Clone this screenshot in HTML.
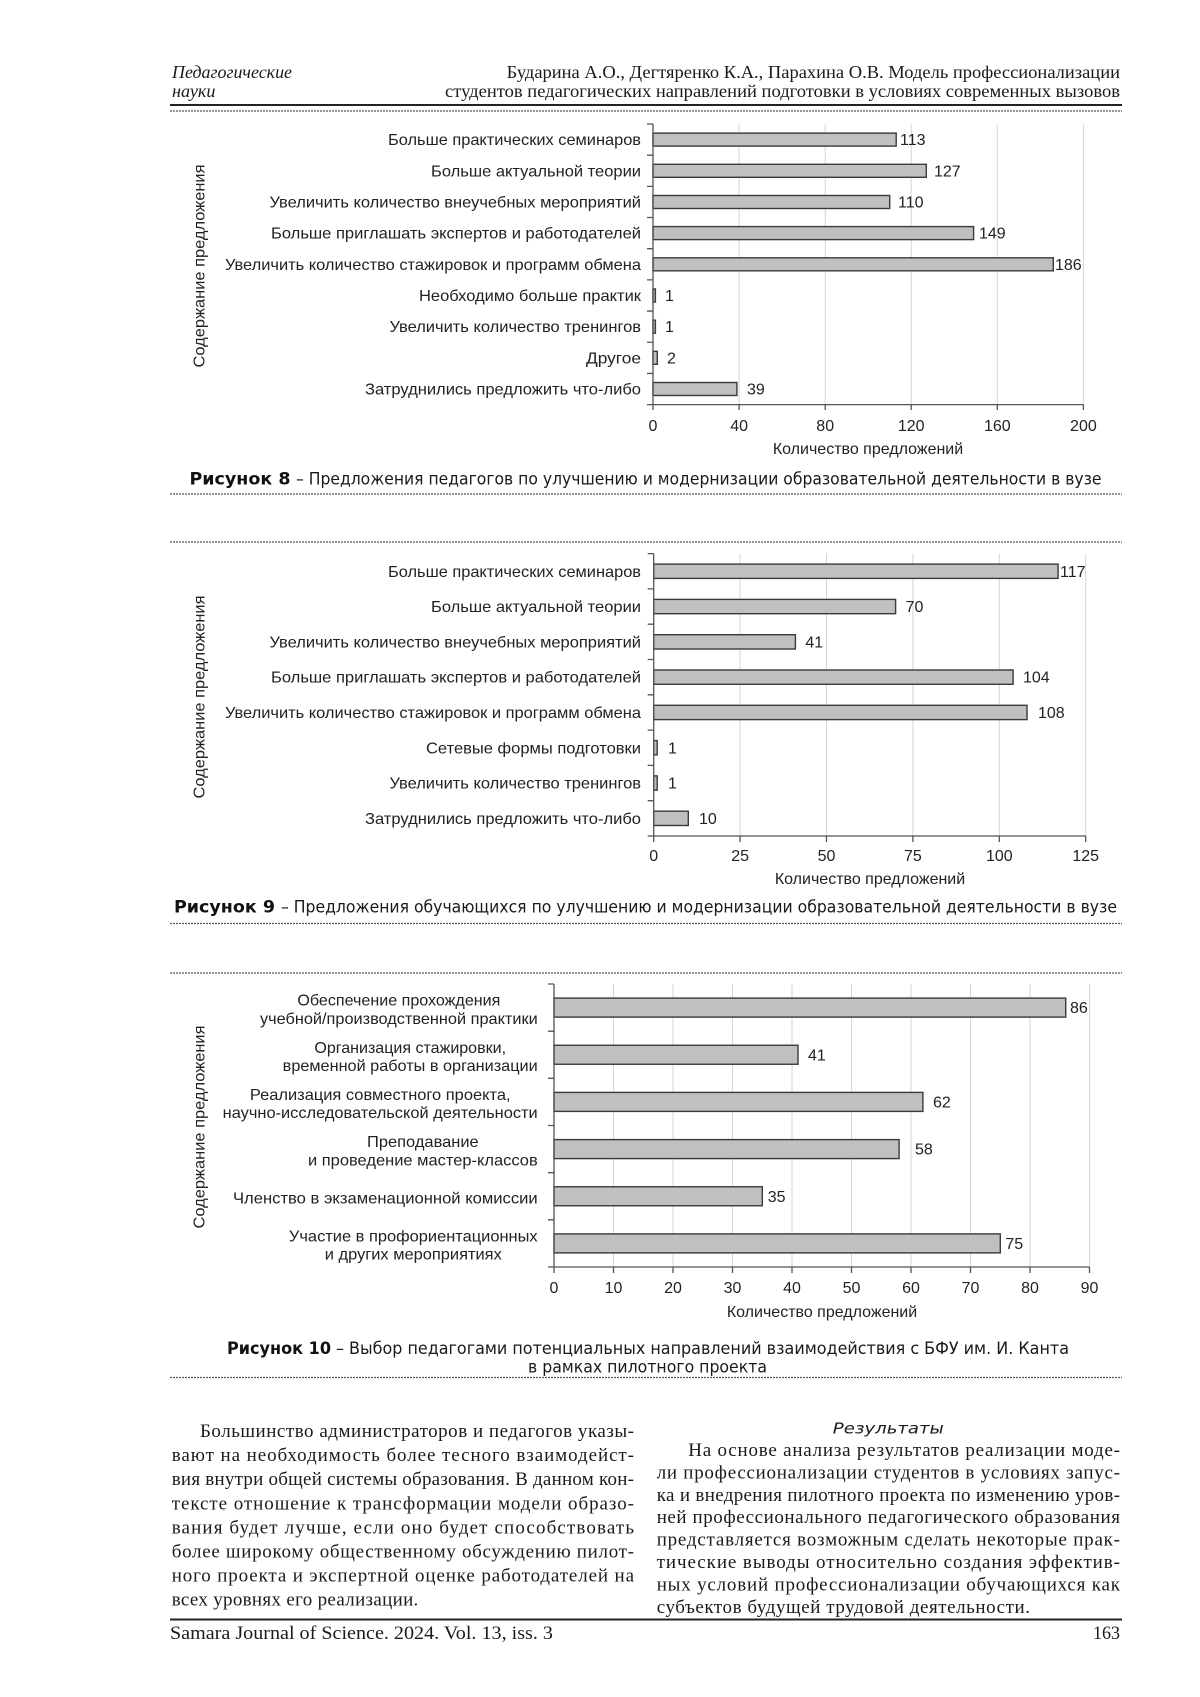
<!DOCTYPE html>
<html><head><meta charset="utf-8"><style>
html,body{margin:0;padding:0;background:#fff;}
svg{display:block;}
.s{font-family:"Liberation Sans",Arial,sans-serif;font-size:16px;fill:#222;}
.t{font-family:"Liberation Serif","Times New Roman",serif;font-size:19px;fill:#1a1a1a;}
.h{font-family:"Liberation Serif","Times New Roman",serif;font-size:18px;fill:#1a1a1a;}
.c{font-family:"DejaVu Sans","Liberation Sans",sans-serif;font-size:16.5px;fill:#1a1a1a;}
.ci{font-family:"DejaVu Sans","Liberation Sans",sans-serif;font-size:15.5px;fill:#1a1a1a;}
.cb{font-family:"DejaVu Sans","Liberation Sans",sans-serif;font-size:16.5px;font-weight:bold;fill:#111;}
.g{stroke:#d6d6d6;stroke-width:1;}
.ax{stroke:#555;stroke-width:1.3;fill:none;}
.bar{fill:#c0c0c0;stroke:#3a3a3a;stroke-width:1.4;}
.dash{stroke:#555;stroke-width:1.2;stroke-dasharray:2 1;}
</style></head><body>
<svg width="1200" height="1697" viewBox="0 0 1200 1697" xmlns="http://www.w3.org/2000/svg">
<rect width="1200" height="1697" fill="#fff"/>

<!-- Header -->
<text class="h" x="172" y="78" font-style="italic" textLength="120" lengthAdjust="spacingAndGlyphs">Педагогические</text>
<text class="h" x="172" y="97" font-style="italic" textLength="43.5" lengthAdjust="spacingAndGlyphs">науки</text>
<text class="h" x="506.7" y="78" textLength="613.3" lengthAdjust="spacingAndGlyphs">Бударина А.О., Дегтяренко К.А., Парахина О.В. Модель профессионализации</text>
<text class="h" x="445" y="97" textLength="675" lengthAdjust="spacingAndGlyphs">студентов педагогических направлений подготовки в условиях современных вызовов</text>
<line x1="170" y1="105" x2="1122" y2="105" stroke="#222" stroke-width="2"/>
<line class="dash" x1="170" y1="111" x2="1122" y2="111"/>

<!-- ============ Chart 8 ============ -->
<g>
<line class="g" x1="739.1" y1="124" x2="739.1" y2="404.6"/>
<line class="g" x1="825.2" y1="124" x2="825.2" y2="404.6"/>
<line class="g" x1="911.2" y1="124" x2="911.2" y2="404.6"/>
<line class="g" x1="997.3" y1="124" x2="997.3" y2="404.6"/>
<line class="g" x1="1083.4" y1="124" x2="1083.4" y2="404.6"/>

<rect class="bar" x="653" y="133.1" width="243.2" height="13"/>
<rect class="bar" x="653" y="164.3" width="273.3" height="13"/>
<rect class="bar" x="653" y="195.5" width="236.7" height="13"/>
<rect class="bar" x="653" y="226.6" width="320.6" height="13"/>
<rect class="bar" x="653" y="257.8" width="400.3" height="13"/>
<rect class="bar" x="653" y="289.0" width="2.4" height="13"/>
<rect class="bar" x="653" y="320.2" width="2.4" height="13"/>
<rect class="bar" x="653" y="351.3" width="4.3" height="13"/>
<rect class="bar" x="653" y="382.5" width="83.9" height="13"/>

<path class="ax" d="M653 124 V404.6 H1083.4"/>
<path class="ax" d="M647 124H653M647 155.18H653M647 186.36H653M647 217.53H653M647 248.71H653M647 279.89H653M647 311.07H653M647 342.24H653M647 373.42H653M647 404.6H653"/>
<path class="ax" d="M653 404.6V410M739.1 404.6V410M825.2 404.6V410M911.2 404.6V410M997.3 404.6V410M1083.4 404.6V410"/>

<text class="s" x="388" y="145.1" textLength="253" lengthAdjust="spacingAndGlyphs">Больше практических семинаров</text>
<text class="s" x="431" y="176.3" textLength="210" lengthAdjust="spacingAndGlyphs">Больше актуальной теории</text>
<text class="s" x="269.5" y="207.5" textLength="371.5" lengthAdjust="spacingAndGlyphs">Увеличить количество внеучебных мероприятий</text>
<text class="s" x="271" y="238.6" textLength="370" lengthAdjust="spacingAndGlyphs">Больше приглашать экспертов и работодателей</text>
<text class="s" x="225" y="269.8" textLength="416" lengthAdjust="spacingAndGlyphs">Увеличить количество стажировок и программ обмена</text>
<text class="s" x="419" y="301.0" textLength="222" lengthAdjust="spacingAndGlyphs">Необходимо больше практик</text>
<text class="s" x="389.5" y="332.2" textLength="251.5" lengthAdjust="spacingAndGlyphs">Увеличить количество тренингов</text>
<text class="s" x="586" y="363.3" textLength="55" lengthAdjust="spacingAndGlyphs">Другое</text>
<text class="s" x="365" y="394.5" textLength="276" lengthAdjust="spacingAndGlyphs">Затруднились предложить что-либо</text>

<text class="s" x="900" y="145.1">113</text>
<text class="s" x="934" y="176.3">127</text>
<text class="s" x="898" y="207.5">110</text>
<text class="s" x="979" y="238.6">149</text>
<text class="s" x="1055" y="269.8">186</text>
<text class="s" x="665" y="301.0">1</text>
<text class="s" x="665" y="332.2">1</text>
<text class="s" x="667" y="363.3">2</text>
<text class="s" x="747" y="394.5">39</text>

<g text-anchor="middle">
<text class="s" x="653" y="431">0</text>
<text class="s" x="739.1" y="431">40</text>
<text class="s" x="825.2" y="431">80</text>
<text class="s" x="911.2" y="431">120</text>
<text class="s" x="997.3" y="431">160</text>
<text class="s" x="1083.4" y="431">200</text>
<text class="s" x="868" y="454">Количество предложений</text>
</g>
<text class="s" transform="translate(204.5 266) rotate(-90)" x="-101.5" y="0" textLength="203" lengthAdjust="spacingAndGlyphs">Содержание предложения</text>
</g>

<text class="cb" x="189.5" y="484.5" textLength="101" lengthAdjust="spacingAndGlyphs">Рисунок 8</text>
<text class="c" x="296" y="484.5" textLength="805.5" lengthAdjust="spacingAndGlyphs">– Предложения педагогов по улучшению и модернизации образовательной деятельности в вузе</text>
<line class="dash" x1="170" y1="494" x2="1122" y2="494"/>
<line class="dash" x1="170" y1="542" x2="1122" y2="542"/>

<!-- ============ Chart 9 ============ -->
<g>
<line class="g" x1="740.1" y1="553.6" x2="740.1" y2="836"/>
<line class="g" x1="826.5" y1="553.6" x2="826.5" y2="836"/>
<line class="g" x1="912.9" y1="553.6" x2="912.9" y2="836"/>
<line class="g" x1="999.3" y1="553.6" x2="999.3" y2="836"/>
<line class="g" x1="1085.7" y1="553.6" x2="1085.7" y2="836"/>

<rect class="bar" x="653.7" y="564.1" width="404.4" height="14.3"/>
<rect class="bar" x="653.7" y="599.4" width="241.9" height="14.3"/>
<rect class="bar" x="653.7" y="634.7" width="141.7" height="14.3"/>
<rect class="bar" x="653.7" y="670.0" width="359.4" height="14.3"/>
<rect class="bar" x="653.7" y="705.3" width="373.3" height="14.3"/>
<rect class="bar" x="653.7" y="740.6" width="3.5" height="14.3"/>
<rect class="bar" x="653.7" y="775.9" width="3.5" height="14.3"/>
<rect class="bar" x="653.7" y="811.2" width="34.6" height="14.3"/>

<path class="ax" d="M653.7 553.6 V836 H1085.7"/>
<path class="ax" d="M647.7 553.6H653.7M647.7 588.9H653.7M647.7 624.2H653.7M647.7 659.5H653.7M647.7 694.8H653.7M647.7 730.1H653.7M647.7 765.4H653.7M647.7 800.7H653.7M647.7 836H653.7"/>
<path class="ax" d="M653.7 836V842M740.1 836V842M826.5 836V842M912.9 836V842M999.3 836V842M1085.7 836V842"/>

<text class="s" x="388" y="576.8" textLength="253" lengthAdjust="spacingAndGlyphs">Больше практических семинаров</text>
<text class="s" x="431" y="612.1" textLength="210" lengthAdjust="spacingAndGlyphs">Больше актуальной теории</text>
<text class="s" x="269.5" y="647.4" textLength="371.5" lengthAdjust="spacingAndGlyphs">Увеличить количество внеучебных мероприятий</text>
<text class="s" x="271" y="682.7" textLength="370" lengthAdjust="spacingAndGlyphs">Больше приглашать экспертов и работодателей</text>
<text class="s" x="225" y="718.0" textLength="416" lengthAdjust="spacingAndGlyphs">Увеличить количество стажировок и программ обмена</text>
<text class="s" x="426" y="753.3" textLength="215" lengthAdjust="spacingAndGlyphs">Сетевые формы подготовки</text>
<text class="s" x="389.5" y="788.6" textLength="251.5" lengthAdjust="spacingAndGlyphs">Увеличить количество тренингов</text>
<text class="s" x="365" y="823.9" textLength="276" lengthAdjust="spacingAndGlyphs">Затруднились предложить что-либо</text>

<text class="s" x="1060" y="576.8">117</text>
<text class="s" x="905.6" y="612.1">70</text>
<text class="s" x="805.4" y="647.4">41</text>
<text class="s" x="1023" y="682.7">104</text>
<text class="s" x="1038" y="718.0">108</text>
<text class="s" x="668" y="753.3">1</text>
<text class="s" x="668" y="788.6">1</text>
<text class="s" x="699" y="823.9">10</text>

<g text-anchor="middle">
<text class="s" x="653.7" y="861">0</text>
<text class="s" x="740.1" y="861">25</text>
<text class="s" x="826.5" y="861">50</text>
<text class="s" x="912.9" y="861">75</text>
<text class="s" x="999.3" y="861">100</text>
<text class="s" x="1085.7" y="861">125</text>
<text class="s" x="870" y="884">Количество предложений</text>
</g>
<text class="s" transform="translate(204.5 697) rotate(-90)" x="-101.5" y="0" textLength="203" lengthAdjust="spacingAndGlyphs">Содержание предложения</text>
</g>

<text class="cb" x="174" y="912.5" textLength="101" lengthAdjust="spacingAndGlyphs">Рисунок 9</text>
<text class="c" x="281" y="912.5" textLength="836" lengthAdjust="spacingAndGlyphs">– Предложения обучающихся по улучшению и модернизации образовательной деятельности в вузе</text>
<line class="dash" x1="170" y1="923.5" x2="1122" y2="923.5"/>
<line class="dash" x1="170" y1="973" x2="1122" y2="973"/>

<!-- ============ Chart 10 ============ -->
<g>
<line class="g" x1="613.5" y1="984" x2="613.5" y2="1267"/>
<line class="g" x1="673" y1="984" x2="673" y2="1267"/>
<line class="g" x1="732.5" y1="984" x2="732.5" y2="1267"/>
<line class="g" x1="792" y1="984" x2="792" y2="1267"/>
<line class="g" x1="851.5" y1="984" x2="851.5" y2="1267"/>
<line class="g" x1="911" y1="984" x2="911" y2="1267"/>
<line class="g" x1="970.5" y1="984" x2="970.5" y2="1267"/>
<line class="g" x1="1030" y1="984" x2="1030" y2="1267"/>
<line class="g" x1="1089.5" y1="984" x2="1089.5" y2="1267"/>

<rect class="bar" x="554" y="998.1" width="511.7" height="19"/>
<rect class="bar" x="554" y="1045.25" width="244" height="19"/>
<rect class="bar" x="554" y="1092.4" width="368.9" height="19"/>
<rect class="bar" x="554" y="1139.6" width="345.1" height="19"/>
<rect class="bar" x="554" y="1186.75" width="208.3" height="19"/>
<rect class="bar" x="554" y="1233.9" width="446.3" height="19"/>

<path class="ax" d="M554 984 V1267 H1089.5"/>
<path class="ax" d="M548 984H554M548 1031.17H554M548 1078.33H554M548 1125.5H554M548 1172.67H554M548 1219.83H554M548 1267H554"/>
<path class="ax" d="M554 1267V1273M613.5 1267V1273M673 1267V1273M732.5 1267V1273M792 1267V1273M851.5 1267V1273M911 1267V1273M970.5 1267V1273M1030 1267V1273M1089.5 1267V1273"/>

<text class="s" x="297.35" y="1005.6" textLength="203" lengthAdjust="spacingAndGlyphs">Обеспечение прохождения</text>
<text class="s" x="260" y="1023.9" textLength="277.7" lengthAdjust="spacingAndGlyphs">учебной/производственной практики</text>
<text class="s" x="314.35" y="1052.75" textLength="191.7" lengthAdjust="spacingAndGlyphs">Организация стажировки,</text>
<text class="s" x="282.7" y="1071.05" textLength="255" lengthAdjust="spacingAndGlyphs">временной работы в организации</text>
<text class="s" x="249.85" y="1099.9" textLength="260.7" lengthAdjust="spacingAndGlyphs">Реализация совместного проекта,</text>
<text class="s" x="222.7" y="1118.2" textLength="315" lengthAdjust="spacingAndGlyphs">научно-исследовательской деятельности</text>
<text class="s" x="367" y="1147.1" textLength="111.7" lengthAdjust="spacingAndGlyphs">Преподавание</text>
<text class="s" x="308" y="1165.4" textLength="229.7" lengthAdjust="spacingAndGlyphs">и проведение мастер-классов</text>
<text class="s" x="233" y="1203.5" textLength="304.7" lengthAdjust="spacingAndGlyphs">Членство в экзаменационной комиссии</text>
<text class="s" x="288.95" y="1241.4" textLength="248.7" lengthAdjust="spacingAndGlyphs">Участие в профориентационных</text>
<text class="s" x="324.8" y="1259.7" textLength="177" lengthAdjust="spacingAndGlyphs">и других мероприятиях</text>

<text class="s" x="1070" y="1013.1">86</text>
<text class="s" x="808" y="1060.25">41</text>
<text class="s" x="933" y="1107.4">62</text>
<text class="s" x="915" y="1154.6">58</text>
<text class="s" x="767.7" y="1201.75">35</text>
<text class="s" x="1005.4" y="1248.9">75</text>

<g text-anchor="middle">
<text class="s" x="554" y="1293">0</text>
<text class="s" x="613.5" y="1293">10</text>
<text class="s" x="673" y="1293">20</text>
<text class="s" x="732.5" y="1293">30</text>
<text class="s" x="792" y="1293">40</text>
<text class="s" x="851.5" y="1293">50</text>
<text class="s" x="911" y="1293">60</text>
<text class="s" x="970.5" y="1293">70</text>
<text class="s" x="1030" y="1293">80</text>
<text class="s" x="1089.5" y="1293">90</text>
<text class="s" x="822" y="1317">Количество предложений</text>
</g>
<text class="s" transform="translate(204.5 1127) rotate(-90)" x="-101.5" y="0" textLength="203" lengthAdjust="spacingAndGlyphs">Содержание предложения</text>
</g>

<text class="cb" x="227" y="1354" textLength="104" lengthAdjust="spacingAndGlyphs">Рисунок 10</text>
<text class="c" x="336" y="1354" textLength="733" lengthAdjust="spacingAndGlyphs">– Выбор педагогами потенциальных направлений взаимодействия с БФУ им. И. Канта</text>
<text class="c" x="528" y="1372.5" textLength="239" lengthAdjust="spacingAndGlyphs">в рамках пилотного проекта</text>
<line class="dash" x1="170" y1="1377.5" x2="1122" y2="1377.5"/>

<!-- Body left column -->
<text class="t" x="200" y="1437" textLength="434" lengthAdjust="spacing">Большинство администраторов и педагогов указы-</text>
<text class="t" x="171.7" y="1461.1" textLength="462.3" lengthAdjust="spacing">вают на необходимость более тесного взаимодейст-</text>
<text class="t" x="171.7" y="1485.2" textLength="462.3" lengthAdjust="spacing">вия внутри общей системы образования. В данном кон-</text>
<text class="t" x="171.7" y="1509.3" textLength="462.3" lengthAdjust="spacing">тексте отношение к трансформации модели образо-</text>
<text class="t" x="171.7" y="1533.4" textLength="462.3" lengthAdjust="spacing">вания будет лучше, если оно будет способствовать</text>
<text class="t" x="171.7" y="1557.5" textLength="462.3" lengthAdjust="spacing">более широкому общественному обсуждению пилот-</text>
<text class="t" x="171.7" y="1581.6" textLength="462.3" lengthAdjust="spacing">ного проекта и экспертной оценке работодателей на</text>
<text class="t" x="171.7" y="1605.7" textLength="246.6" lengthAdjust="spacing">всех уровнях его реализации.</text>

<!-- Body right column -->
<text class="ci" x="832.8" y="1433.5" font-style="italic" textLength="111" lengthAdjust="spacingAndGlyphs">Результаты</text>
<text class="t" x="688.3" y="1456" textLength="431.7" lengthAdjust="spacing">На основе анализа результатов реализации моде-</text>
<text class="t" x="656.7" y="1478.4" textLength="463.3" lengthAdjust="spacing">ли профессионализации студентов в условиях запус-</text>
<text class="t" x="656.7" y="1500.8" textLength="463.3" lengthAdjust="spacing">ка и внедрения пилотного проекта по изменению уров-</text>
<text class="t" x="656.7" y="1523.2" textLength="463.3" lengthAdjust="spacing">ней профессионального педагогического образования</text>
<text class="t" x="656.7" y="1545.6" textLength="463.3" lengthAdjust="spacing">представляется возможным сделать некоторые прак-</text>
<text class="t" x="656.7" y="1568" textLength="463.3" lengthAdjust="spacing">тические выводы относительно создания эффектив-</text>
<text class="t" x="656.7" y="1590.4" textLength="463.3" lengthAdjust="spacing">ных условий профессионализации обучающихся как</text>
<text class="t" x="656.7" y="1612.8" textLength="373.3" lengthAdjust="spacing">субъектов будущей трудовой деятельности.</text>

<!-- Footer -->
<line x1="170" y1="1619.5" x2="1122" y2="1619.5" stroke="#222" stroke-width="2"/>
<text class="t" x="170" y="1639" textLength="383" lengthAdjust="spacingAndGlyphs">Samara Journal of Science. 2024. Vol. 13, iss. 3</text>
<text class="t" x="1093" y="1639" textLength="27" lengthAdjust="spacingAndGlyphs">163</text>
</svg>
</body></html>
